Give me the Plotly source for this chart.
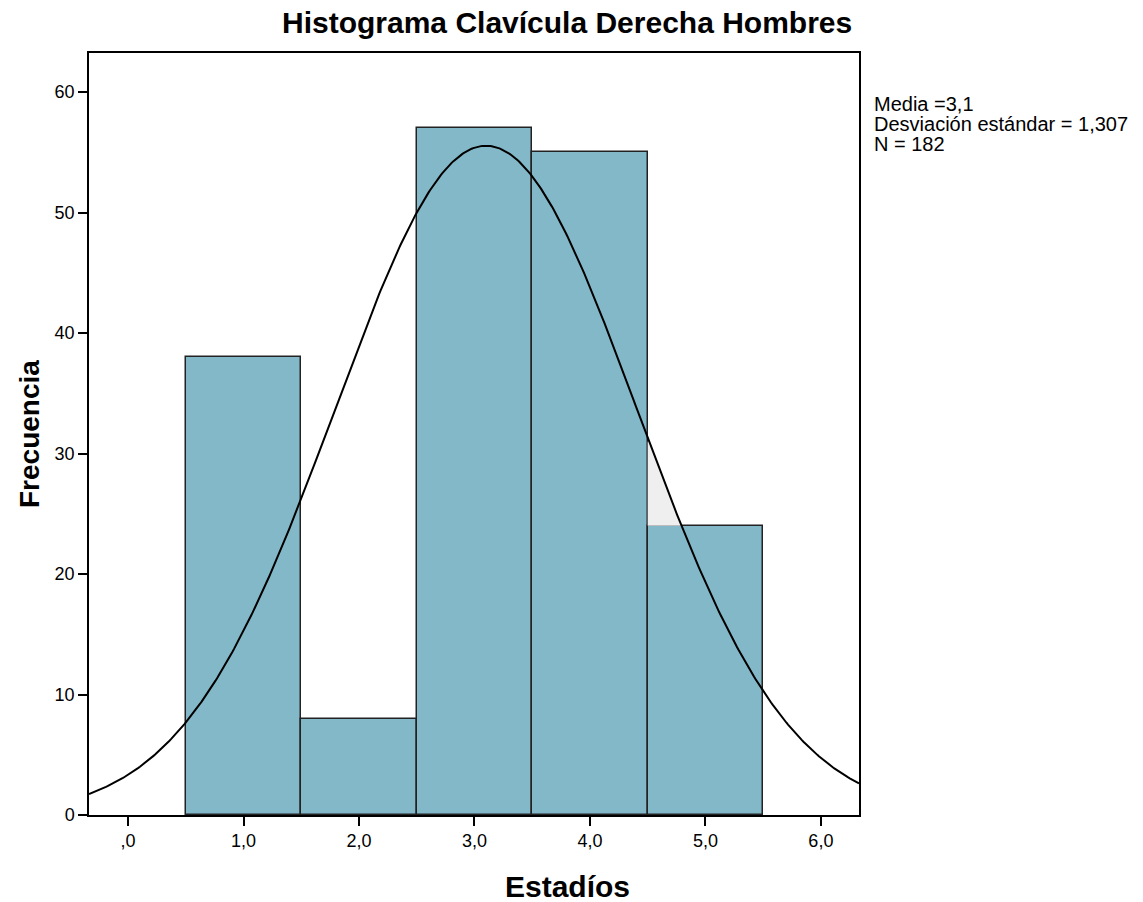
import numpy as np
import plotly.graph_objects as go

# Data
bin_centers = [1, 2, 3, 4, 5]
frequencies = [38, 8, 57, 55, 24]
bin_width = 1.0
media = 3.1
desviacion = 1.307
n_total = 182
x_tickvals = [0, 1, 2, 3, 4, 5, 6]
x_ticktext = [",0", "1,0", "2,0", "3,0", "4,0", "5,0", "6,0"]
y_tickvals = [0, 10, 20, 30, 40, 50, 60]
stats_lines = ["Media =3,1", "Desviación estándar = 1,307", "N = 182"]

x_range = [-0.338, 6.33]
y_range = [0, 63.25]

# fitted normal curve from the displayed statistics
xs = np.linspace(x_range[0], x_range[1], 500)
ys = n_total * bin_width / (desviacion * np.sqrt(2 * np.pi)) * np.exp(-0.5 * ((xs - media) / desviacion) ** 2)

fig = go.Figure()

# light grey region (curve above the last bar's top, right of 4.5)
edge = bin_centers[3] + bin_width / 2
mask = (xs >= edge) & (ys >= frequencies[4])
fig.add_trace(go.Scatter(x=[edge] + list(xs[mask]) + [xs[mask][-1], edge],
                         y=[ys[mask][0]] + list(ys[mask]) + [frequencies[4], frequencies[4]],
                         fill="toself", fillcolor="#efefef", line=dict(width=0), mode="lines",
                         hoverinfo="skip", showlegend=False))

fig.add_trace(go.Bar(x=bin_centers, y=frequencies, width=bin_width,
                     marker=dict(color="#82b8c8", line=dict(color="#222222", width=1.5)),
                     showlegend=False))

fig.add_trace(go.Scatter(x=xs, y=ys, mode="lines", line=dict(color="#000000", width=2),
                         showlegend=False, hoverinfo="skip"))

font_family = "Liberation Sans, Arial, sans-serif"

annotations = [
    dict(text="<b>Histograma Clavícula Derecha Hombres</b>", xref="paper", yref="paper",
         x=0.621, y=1.0, yshift=31, xanchor="center", yanchor="middle",
         showarrow=False, font=dict(size=30)),
    dict(text="<b>Estadíos</b>", xref="paper", yref="paper",
         x=0.621, y=0, yshift=-71, xanchor="center", yanchor="middle",
         showarrow=False, font=dict(size=30)),
    dict(text="<b>Frecuencia</b>", xref="paper", yref="paper",
         x=0, xshift=-60, y=0.5, xanchor="center", yanchor="middle", textangle=-90,
         showarrow=False, font=dict(size=28)),
]
for i, line in enumerate(stats_lines):
    annotations.append(dict(text=line, xref="paper", yref="paper",
                            x=1, xshift=13, y=1, yshift=-51 - 20 * i,
                            xanchor="left", yanchor="middle", align="left",
                            showarrow=False, font=dict(size=20)))

fig.update_layout(
    width=1143, height=902,
    margin=dict(l=89, r=284, t=53, b=87),
    plot_bgcolor="white", paper_bgcolor="white",
    font=dict(family=font_family, color="#000000", size=18),
    bargap=0,
    xaxis=dict(range=x_range, tickvals=x_tickvals, ticktext=x_ticktext,
               showgrid=False, zeroline=False, showline=True, mirror=True,
               linecolor="#000000", linewidth=1.5, ticks="outside", ticklen=9,
               tickwidth=2, tickcolor="#000000", tickfont=dict(size=18)),
    yaxis=dict(range=y_range, tickvals=y_tickvals,
               showgrid=False, zeroline=False, showline=True, mirror=True,
               linecolor="#000000", linewidth=1.5, ticks="outside", ticklen=9,
               tickwidth=2, tickcolor="#000000", tickfont=dict(size=18)),
    annotations=annotations,
)

fig.write_html("out.html")
